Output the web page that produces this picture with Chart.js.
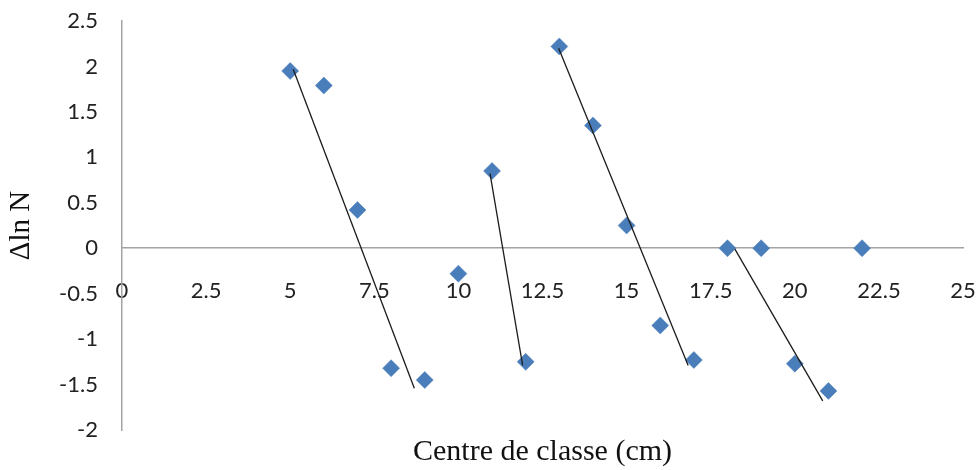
<!DOCTYPE html>
<html>
<head>
<meta charset="utf-8">
<script src="https://cdn.jsdelivr.net/npm/chart.js@4/dist/chart.umd.min.js"></script>
<style>
  html, body { margin: 0; padding: 0; background: #fff; }
  #wrap { width: 978px; height: 470px; }
</style>
</head>
<body>
<div id="wrap"><canvas id="c" width="978" height="470"></canvas></div>
<script>
// Size-class centres (cm) and the change in ln N for each class
const classCentres = [5, 6, 7, 8, 9, 10, 11, 12, 13, 14, 15, 16, 17, 18, 19, 20, 21, 22];
const deltaLnN = [1.95, 1.79, 0.42, -1.32, -1.45, -0.28, 0.85, -1.25, 2.22, 1.35, 0.25, -0.85, -1.23, 0, 0, -1.27, -1.57, 0];

// Fitted descending limbs (start / end of each segment)
const limb1X = [5.09, 8.69];
const limb1Y = [1.97, -1.54];
const limb2X = [10.94, 11.91];
const limb2Y = [0.82, -1.29];
const limb3X = [12.98, 16.83];
const limb3Y = [2.20, -1.29];
const limb4X = [18.22, 20.83];
const limb4Y = [-0.01, -1.68];

const xTicks = [0, 2.5, 5, 7.5, 10, 12.5, 15, 17.5, 20, 22.5, 25];
const yTicks = [-2, -1.5, -1, -0.5, 0, 0.5, 1, 1.5, 2, 2.5];

const toPoints = (xs, ys) => xs.map((x, i) => ({ x: x, y: ys[i] }));

const limbStyle = {
  showLine: true,
  pointRadius: 0,
  borderColor: '#1c1c1c',
  borderWidth: 1.3,
  fill: false,
  order: 0
};

const tickFont = { family: 'Lato', size: 22 };
const axisColor = '#a3a3a3';

// keep the plot area edges where the layout puts them (no label overhang padding)
const noOverhang = (scale) => {
  scale.paddingLeft = 0;
  scale.paddingRight = 0;
  scale.paddingTop = 0;
  scale.paddingBottom = 0;
};

new Chart(document.getElementById('c'), {
  type: 'scatter',
  data: {
    datasets: [
      Object.assign({ data: toPoints(limb1X, limb1Y) }, limbStyle),
      Object.assign({ data: toPoints(limb2X, limb2Y) }, limbStyle),
      Object.assign({ data: toPoints(limb3X, limb3Y) }, limbStyle),
      Object.assign({ data: toPoints(limb4X, limb4Y) }, limbStyle),
      {
        data: toPoints(classCentres, deltaLnN),
        pointStyle: 'rectRot',
        pointRadius: 8.5,
        pointBorderWidth: 0.5,
        backgroundColor: '#4a7ebb',
        borderColor: '#4a7ebb',
        showLine: false,
        order: 1
      }
    ]
  },
  options: {
    responsive: false,
    animation: false,
    layout: { padding: { top: 21, right: 15, bottom: 0, left: 0 } },
    plugins: {
      legend: { display: false },
      tooltip: { enabled: false },
      title: {
        display: true,
        position: 'bottom',
        fullSize: false,
        text: 'Centre de classe (cm)',
        color: '#111',
        font: { family: 'Liberation Serif', size: 30, weight: 'normal' },
        padding: { top: 4, bottom: 0 }
      }
    },
    scales: {
      x: {
        type: 'linear',
        position: { y: 0 },
        min: 0,
        max: 25,
        afterBuildTicks: (scale) => { scale.ticks = xTicks.map(v => ({ value: v })); },
        afterFit: noOverhang,
        ticks: {
          color: '#222',
          font: tickFont,
          padding: 29,
          maxRotation: 0,
          autoSkip: false,
          callback: (v) => String(v)
        },
        grid: { display: false, drawTicks: false },
        border: { display: true, color: axisColor, width: 1.5 }
      },
      y: {
        type: 'linear',
        position: 'left',
        min: -2,
        max: 2.5,
        afterBuildTicks: (scale) => { scale.ticks = yTicks.map(v => ({ value: v })); },
        afterFit: (scale) => { scale.width = 122; noOverhang(scale); },
        ticks: {
          color: '#222',
          font: tickFont,
          padding: 24,
          autoSkip: false,
          callback: (v) => String(v)
        },
        grid: { display: false, drawTicks: false },
        border: { display: true, color: axisColor, width: 1.5 },
        title: {
          display: true,
          text: 'Δln N',
          color: '#111',
          font: { family: 'Liberation Serif', size: 29, weight: 'normal' },
          padding: { top: 4, bottom: 0 }
        }
      }
    }
  }
});
</script>
</body>
</html>
